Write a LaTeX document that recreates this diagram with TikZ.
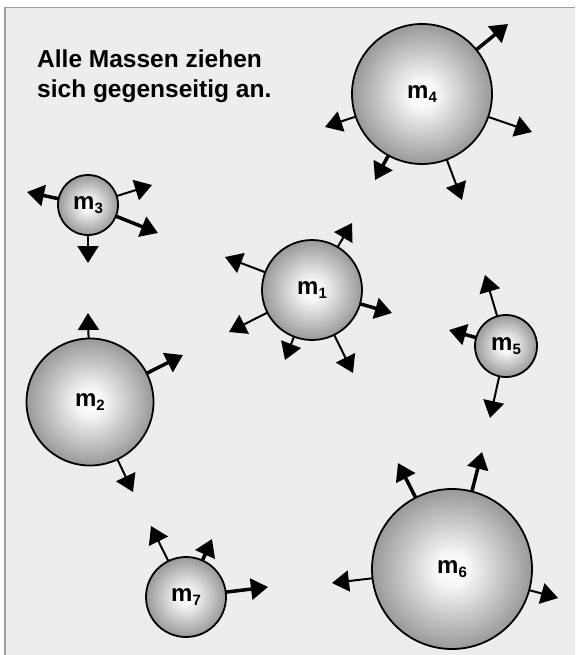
\documentclass[tikz,border=0pt]{standalone}
\usepackage{fontspec}
\setmainfont{Liberation Sans}
\usetikzlibrary{arrows.meta}
\pgfdeclareradialshading{sphere}{\pgfpoint{0bp}{0bp}}{color(0bp)=(white); color(5bp)=(white!97!black); color(25bp)=(black!40); color(50bp)=(black!40)}
\newcommand\mlab[1]{m\raisebox{-4pt}{\fontsize{15}{15}\selectfont #1}}
\definecolor{bgc}{HTML}{EDEDED}
\definecolor{framec}{HTML}{9E9E9E}
\tikzset{
  ball/.style={circle, draw=black, line width=1.8pt, shading=sphere, inner sep=0pt,
    font=\bfseries\fontsize{24}{24}\selectfont},
  arr/.style={line width=2pt, -{Triangle[length=17pt,width=21pt]}, shorten <=-0.5pt},
  thickarr/.style={arr, line width=3.5pt},
  caption/.style={anchor=base west, inner sep=0pt, font=\bfseries\fontsize{24.5}{30}\selectfont}
}
\begin{document}
\begin{tikzpicture}[x=1pt,y=-1pt]
\useasboundingbox (0,0) rectangle (575,655);
\fill[white] (0,0) rectangle (575,655);
\fill[bgc] (5,7.5) rectangle (575,655);
\draw[framec, line width=1.6pt] (5,655) -- (5,7.5) -- (575,7.5);

\node[caption] (t1) at (37,68) {Alle Massen ziehen};
\node[caption] (t2) at (37,98) {sich gegenseitig an.};

% masses
\node[ball, minimum size=140pt] (m4) at (422,94) {\mlab{4}};
\node[ball, minimum size=60pt] (m3) at (88,205) {\mlab{3}};
\node[ball, minimum size=127pt] (m2) at (90,402) {\mlab{2}};
\node[ball, minimum size=100pt] (m1) at (312,290) {\mlab{1}};
\node[ball, minimum size=62pt] (m5) at (506,346) {\mlab{5}};
\node[ball, minimum size=80pt] (m7) at (186,597) {\mlab{7}};
\node[ball, minimum size=160pt] (m6) at (452,569) {\mlab{6}};

% arrow tips
\coordinate (a4a) at (508,24);
\coordinate (a4b) at (325,127);
\coordinate (a4c) at (532,132);
\coordinate (a4d) at (375,180);
\coordinate (a4e) at (462,200);
\coordinate (a3a) at (27,192);
\coordinate (a3b) at (152,185);
\coordinate (a3c) at (158,233);
\coordinate (a3d) at (88,263);
\coordinate (a2a) at (88,313);
\coordinate (a2b) at (183,355);
\coordinate (a2c) at (133,492);
\coordinate (a1a) at (225,257);
\coordinate (a1b) at (229,332);
\coordinate (a1c) at (352,223);
\coordinate (a1d) at (392,313);
\coordinate (a1e) at (285,360);
\coordinate (a1f) at (353,373);
\coordinate (a5a) at (485,275);
\coordinate (a5b) at (449,330);
\coordinate (a5c) at (490,418);
\coordinate (a7a) at (151,526);
\coordinate (a7b) at (212,539);
\coordinate (a7c) at (268,587);
\coordinate (a6a) at (398,463);
\coordinate (a6b) at (482,452);
\coordinate (a6c) at (332,583);
\coordinate (a6d) at (558,598);

\draw[thickarr] (m4) -- (a4a);
\draw[arr] (m4) -- (a4b);
\draw[arr] (m4) -- (a4c);
\draw[thickarr] (m4) -- (a4d);
\draw[arr] (m4) -- (a4e);

\draw[thickarr] (m3) -- (a3a);
\draw[arr] (m3) -- (a3b);
\draw[thickarr] (m3) -- (a3c);
\draw[arr] (m3) -- (a3d);

\draw[arr] (m2) -- (a2a);
\draw[thickarr] (m2) -- (a2b);
\draw[arr] (m2) -- (a2c);

\draw[arr] (m1) -- (a1a);
\draw[arr] (m1) -- (a1b);
\draw[arr] (m1) -- (a1c);
\draw[thickarr] (m1) -- (a1d);
\draw[arr] (m1) -- (a1e);
\draw[arr] (m1) -- (a1f);

\draw[arr] (m5) -- (a5a);
\draw[thickarr] (m5) -- (a5b);
\draw[arr] (m5) -- (a5c);

\draw[arr] (m7) -- (a7a);
\draw[thickarr] (m7) -- (a7b);
\draw[thickarr] (m7) -- (a7c);

\draw[thickarr] (m6) -- (a6a);
\draw[thickarr] (m6) -- (a6b);
\draw[arr] (m6) -- (a6c);
\draw[arr] (m6) -- (a6d);
\end{tikzpicture}
\end{document}
